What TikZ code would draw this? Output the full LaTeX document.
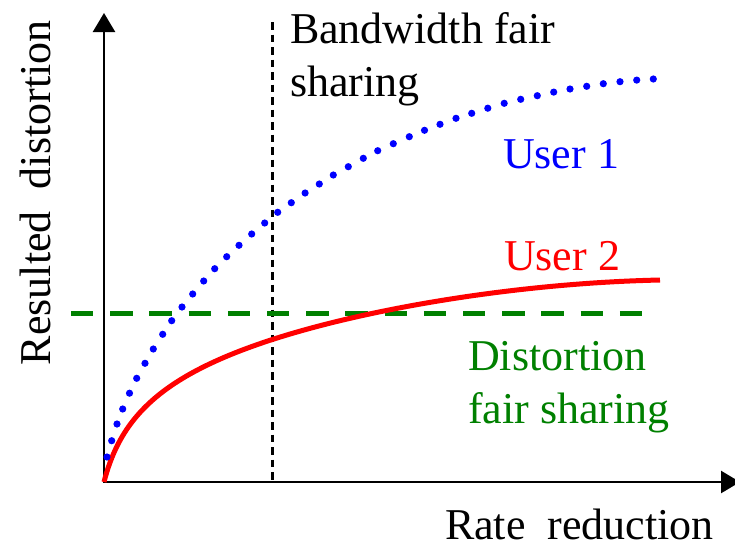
\documentclass[tikz,border=0pt]{standalone}
\usepackage{fontspec}
\setmainfont{Liberation Serif}
\usetikzlibrary{arrows.meta}
\definecolor{distgreen}{RGB}{0,128,0}
\definecolor{userred}{RGB}{255,0,0}
\definecolor{userblue}{RGB}{0,0,255}
\tikzset{
  axisline/.style={line width=2.5pt, draw=black, -{Triangle[length=19pt,width=22pt]}},
  lbl/.style={inner sep=0pt, outer sep=0pt, font=\fontsize{44}{53}\selectfont, align=left, anchor=base west},
  bwline/.style={line width=2.5pt, dash pattern=on 7.5pt off 5pt},
  dfline/.style={line width=5pt, draw=distgreen, dash pattern=on 22.4pt off 16.8pt},
  user1dot/.style={fill=userblue},
  user2line/.style={line width=5pt, draw=userred, line join=round}
}
\begin{document}
\begin{tikzpicture}[x=1pt,y=-1pt]
\useasboundingbox (0,0) rectangle (735,544);
% axes
\coordinate (O) at (104,482);
\coordinate (ytop) at (104,13);
\coordinate (xend) at (740,482);
\draw[axisline] (O) -- (ytop);
\draw[axisline] ([xshift=-1.25pt]O) -- (xend);
% bandwidth fair sharing line
\coordinate (bwtop) at (272.5,22);
\coordinate (bwbot) at (272.5,482);
\draw[bwline] (bwtop) -- (bwbot);
% distortion fair sharing line
\coordinate (dfl) at (71,313.5);
\coordinate (dfr) at (643,313.5);
\draw[dfline] (dfl) -- (dfr);
% user 2 curve
\draw[user2line] plot[domain=0:23.58,samples=100]
  ({104+\x*\x},{482-54.5*ln(1+\x*\x/14)-40.7*(\x*\x/556)*(\x*\x/556)*(1-\x*\x/556)});
% user 1 curve (dotted)
\foreach \px/\py in {107/457, 111.7/440.7, 117/424, 122.7/409, 129.5/393.2, 136.7/378.3,
  145/363.3, 153.3/349, 162.7/334.3, 171.7/320.7, 182/307, 192.7/294, 203.7/281,
  214.7/268.7, 226.7/256.7, 239/245.3, 251.7/234, 264.7/223, 277.7/212.3, 291.3/202.7,
  305.1/193, 319.3/184, 333.3/175, 348.3/166.7, 363.3/158.3, 377.7/150.7, 393.3/143.7,
  409.3/136.7, 424.5/130.3, 440/124.3, 456/118.3, 471.7/113.3, 487.8/108.2, 504.2/103.3,
  520.7/99.3, 537.3/95.7, 553.7/92.1, 570/89, 586.7/86.3, 603.3/83.7, 620/81.7,
  636.7/80.1, 653.3/79}
  \fill[user1dot] (\px,\py) circle (3.6pt);
% labels (base anchor = baseline of the last line)
\node[lbl] (bwlabel) at (290,96) {Bandwidth fair\\sharing};
\node[lbl, text=userblue] (u1label) at (503,168) {User 1};
\node[lbl, text=userred] (u2label) at (504,270) {User 2};
\node[lbl, text=distgreen] (dflabel) at (468,423) {Distortion\\fair sharing};
\node[lbl] (xlabel) at (445,539) {Rate~~reduction};
\node[lbl, rotate=90] (ylabel) at (50,365) {Resulted~~distortion};
\end{tikzpicture}
\end{document}
